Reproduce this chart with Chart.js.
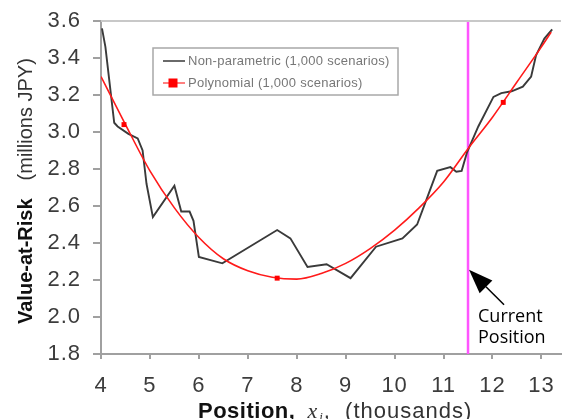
<!DOCTYPE html>
<html>
<head>
<meta charset="utf-8">
<script src="https://cdn.jsdelivr.net/npm/chart.js@4/dist/chart.umd.min.js"></script>
<style>
  html, body { margin: 0; padding: 0; background: #fff; }
  canvas { display: block; }
</style>
</head>
<body>
<canvas id="c" width="565" height="419"></canvas>
<script>
// Axis ticks
const xTicks = [4, 5, 6, 7, 8, 9, 10, 11, 12, 13];
const yTicks = [1.8, 2.0, 2.2, 2.4, 2.6, 2.8, 3.0, 3.2, 3.4, 3.6];

// Non-parametric VaR estimate (position in thousands, VaR in millions JPY)
const nonParamX = [4.02, 4.09, 4.27, 4.34, 4.56, 4.75, 4.85, 4.93, 5.06, 5.50, 5.64, 5.81, 5.89, 6.00, 6.48,
                   7.60, 7.87, 8.22, 8.61, 9.10, 9.62, 10.16, 10.46, 10.70, 10.87, 11.14, 11.26, 11.37, 11.48,
                   11.71, 12.02, 12.18, 12.39, 12.62, 12.79, 12.89, 13.06, 13.22];
const nonParamY = [3.56, 3.46, 3.05, 3.03, 2.99, 2.965, 2.90, 2.72, 2.54, 2.71, 2.57, 2.57, 2.52, 2.325, 2.29,
                   2.47, 2.425, 2.27, 2.285, 2.21, 2.38, 2.425, 2.50, 2.67, 2.79, 2.81, 2.785, 2.79, 2.89,
                   3.03, 3.19, 3.21, 3.22, 3.245, 3.30, 3.415, 3.505, 3.555];

// Polynomial VaR estimate
const polyX = [4.0, 4.5, 5.0, 5.5, 6.0, 6.5, 7.0, 7.5, 8.0, 8.5, 9.0, 9.5, 10.0, 10.5, 11.0, 11.5, 12.0, 12.5, 13.0, 13.2];
const polyY = [3.30, 3.04, 2.79, 2.59, 2.43, 2.315, 2.25, 2.215, 2.205, 2.235, 2.29, 2.37, 2.47, 2.59, 2.73, 2.91, 3.08, 3.27, 3.46, 3.54];
const polyMarkerX = [4.47, 7.60, 12.22];
const polyMarkerY = [3.04, 2.21, 3.16];

// Current holding (thousands)
const currentPosition = 11.5;

const seriesLabels = ['Non-parametric (1,000 scenarios)', 'Polynomial (1,000 scenarios)'];
const calloutLines = ['Current', 'Position'];

const zip = (xs, ys) => xs.map((x, i) => ({ x, y: ys[i] }));

const BLACK = '#3a3a3a';
const RED = '#ff1a1a';
const MAGENTA = '#ff55ff';
const SANS = '"Liberation Sans", Arial, sans-serif';

const overlay = {
  id: 'overlay',
  beforeDraw(chart) {
    chart.ctx.letterSpacing = '1px';
  },
  afterDatasetsDraw(chart) {
    const { ctx, chartArea: a, scales: { x, y } } = chart;
    ctx.save();

    // frame line along the top of the plot
    ctx.strokeStyle = '#c8c8c8';
    ctx.lineWidth = 2;
    ctx.beginPath();
    ctx.moveTo(a.left, a.top);
    ctx.lineTo(a.right, a.top);
    ctx.stroke();

    // legend box
    const lx = 153, ly = 48, lw = 245, lh = 47;
    ctx.fillStyle = '#fff';
    ctx.fillRect(lx, ly, lw, lh);
    ctx.strokeStyle = '#a8a8a8';
    ctx.lineWidth = 1.5;
    ctx.strokeRect(lx, ly, lw, lh);
    ctx.letterSpacing = '0.25px';
    ctx.font = '13px ' + SANS;
    ctx.textBaseline = 'middle';
    ctx.textAlign = 'left';
    ctx.fillStyle = '#777';
    const rows = [ly + 13, ly + 35];
    ctx.strokeStyle = '#6a6a6a';
    ctx.lineWidth = 2;
    ctx.beginPath(); ctx.moveTo(163, rows[0]); ctx.lineTo(185, rows[0]); ctx.stroke();
    ctx.fillText(seriesLabels[0], 188, rows[0]);
    ctx.strokeStyle = '#ff8080';
    ctx.beginPath(); ctx.moveTo(163, rows[1]); ctx.lineTo(185, rows[1]); ctx.stroke();
    ctx.fillStyle = '#ff0000';
    ctx.fillRect(168.5, rows[1] - 4.5, 9, 9);
    ctx.fillStyle = '#777';
    ctx.fillText(seriesLabels[1], 188, rows[1]);

    // callout arrow pointing at the current position
    const tipX = x.getPixelForValue(currentPosition) + 1;
    const tipY = y.getPixelForValue(2.255);
    const tailX = tipX + 35, tailY = tipY + 35;
    const ang = Math.atan2(tipY - tailY, tipX - tailX);
    const headLen = 24, headHalf = 9;
    const bx = tipX - headLen * Math.cos(ang), by = tipY - headLen * Math.sin(ang);
    ctx.strokeStyle = '#000';
    ctx.lineWidth = 1.5;
    ctx.beginPath(); ctx.moveTo(tailX, tailY); ctx.lineTo(bx, by); ctx.stroke();
    ctx.fillStyle = '#000';
    ctx.beginPath();
    ctx.moveTo(tipX, tipY);
    ctx.lineTo(bx + headHalf * Math.sin(ang), by - headHalf * Math.cos(ang));
    ctx.lineTo(bx - headHalf * Math.sin(ang), by + headHalf * Math.cos(ang));
    ctx.closePath();
    ctx.fill();

    ctx.letterSpacing = '0px';
    ctx.font = '18px "Open Sans", sans-serif';
    ctx.textBaseline = 'alphabetic';
    ctx.fillStyle = '#000';
    ctx.fillText(calloutLines[0], tipX + 9, tipY + 52);
    ctx.fillText(calloutLines[1], tipX + 9, tipY + 73);

    // x-axis title
    let cx = 198;
    const ty = 418;
    ctx.fillStyle = '#111';
    ctx.letterSpacing = '0.5px';
    ctx.font = 'bold 22px ' + SANS;
    ctx.fillText('Position,', cx, ty);
    cx += ctx.measureText('Position,').width + 12;
    ctx.letterSpacing = '0px';
    ctx.fillStyle = '#333';
    ctx.font = 'italic 22px "Liberation Serif", serif';
    ctx.fillText('x', cx, ty);
    cx += ctx.measureText('x').width + 2;
    ctx.font = 'italic 13px "Liberation Serif", serif';
    ctx.fillText('i', cx, ty + 3);
    cx += ctx.measureText('i').width + 1;
    ctx.letterSpacing = '1px';
    ctx.font = '22px ' + SANS;
    ctx.fillText(',  (thousands)', cx, ty);

    // y-axis title
    ctx.translate(32, 324);
    ctx.rotate(-Math.PI / 2);
    ctx.letterSpacing = '0px';
    ctx.fillStyle = '#111';
    ctx.font = 'bold 20px ' + SANS;
    ctx.fillText('Value-at-Risk', 0, 0);
    const w = ctx.measureText('Value-at-Risk').width + 18;
    ctx.fillStyle = '#333';
    ctx.font = '20px ' + SANS;
    ctx.fillText('(millions JPY)', w, 0);

    ctx.restore();
  }
};

new Chart(document.getElementById('c'), {
  type: 'scatter',
  data: {
    datasets: [
      {
        label: seriesLabels[1] + ' markers',
        data: zip(polyMarkerX, polyMarkerY),
        showLine: false,
        pointStyle: 'rect',
        pointRadius: 3.5,
        backgroundColor: '#ff0000',
        borderColor: '#ff0000',
        borderWidth: 0
      },
      {
        label: seriesLabels[1],
        data: zip(polyX, polyY),
        showLine: true,
        borderColor: RED,
        borderWidth: 1.6,
        pointRadius: 0,
        cubicInterpolationMode: 'monotone'
      },
      {
        label: seriesLabels[0],
        data: zip(nonParamX, nonParamY),
        showLine: true,
        borderColor: BLACK,
        borderWidth: 1.9,
        pointRadius: 0,
        tension: 0
      },
      {
        label: 'Current position',
        data: [{ x: currentPosition, y: 1.8 }, { x: currentPosition, y: 3.6 }],
        showLine: true,
        borderColor: MAGENTA,
        borderWidth: 2.5,
        pointRadius: 0
      }
    ]
  },
  options: {
    responsive: false,
    animation: false,
    devicePixelRatio: 1,
    layout: { padding: { top: 21, right: 0, bottom: 0, left: 0 } },
    plugins: {
      legend: { display: false },
      tooltip: { enabled: false }
    },
    scales: {
      x: {
        type: 'linear',
        min: 4,
        max: 13.4,
        afterBuildTicks: s => { s.ticks = xTicks.map(v => ({ value: v })); },
        afterFit: s => { s.height = 65; s.paddingLeft = 0; s.paddingRight = 0; },
        ticks: {
          padding: 14,
          color: '#3c3c3c',
          font: { family: SANS, size: 22 }
        },
        grid: { drawOnChartArea: false, drawTicks: true, tickLength: 5, color: '#a0a0a0', lineWidth: 2 },
        border: { color: '#a0a0a0', width: 2 }
      },
      y: {
        type: 'linear',
        min: 1.8,
        max: 3.6,
        afterBuildTicks: s => { s.ticks = yTicks.map(v => ({ value: v })); },
        afterFit: s => { s.width = 101; s.paddingTop = 0; s.paddingBottom = 0; },
        ticks: {
          padding: 12,
          color: '#3c3c3c',
          font: { family: SANS, size: 22 },
          callback: v => v.toFixed(1)
        },
        grid: { drawOnChartArea: false, drawTicks: true, tickLength: 8, color: '#a0a0a0', lineWidth: 2 },
        border: { color: '#a0a0a0', width: 2 }
      }
    }
  },
  plugins: [overlay]
});
</script>
</body>
</html>
